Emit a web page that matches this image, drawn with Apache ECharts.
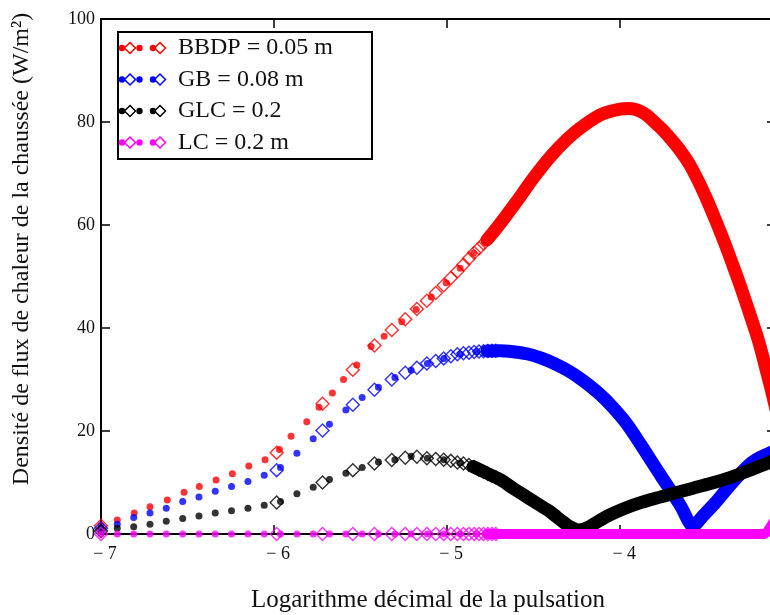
<!DOCTYPE html>
<html>
<head>
<meta charset="utf-8">
<script src="https://cdn.jsdelivr.net/npm/echarts@6/dist/echarts.min.js"></script>
<style>
html,body{margin:0;padding:0;overflow:hidden;background:#fff;}
#c{width:800px;height:615px;}
</style>
</head>
<body>
<div id="c"></div>
<script>
// ---- data ----
const xTicks = [-7, -6, -5, -4];
const yTicks = [0, 20, 40, 60, 80, 100];

const seriesNames = ['BBDP = 0.05 m', 'GB = 0.08 m', 'GLC = 0.2', 'LC = 0.2 m'];

// dot traces
const redDotX = [-7.000, -6.906, -6.808, -6.717, -6.617, -6.520, -6.432, -6.335, -6.241, -6.146, -6.052, -5.969, -5.902, -5.811, -5.740, -5.663, -5.599, -5.522, -5.439, -5.364, -5.262, -5.179, -5.092, -5.006, -4.925, -4.848, -4.770, -4.675];
const redDotY = [1.6, 2.7, 4.1, 5.3, 6.6, 8.1, 9.2, 10.5, 11.7, 13.2, 14.4, 16.4, 19.0, 21.8, 24.6, 27.4, 30.0, 32.8, 36.4, 38.4, 41.2, 43.6, 46.0, 48.8, 51.6, 54.5, 57.1, 61.0];

const dotX = [-7.000, -6.906, -6.811, -6.717, -6.623, -6.528, -6.434, -6.340, -6.246, -6.151, -6.057, -5.963, -5.868, -5.774, -5.680, -5.585, -5.491, -5.397, -5.302, -5.208, -5.114, -5.019, -4.925, -4.830, -4.736, -4.642];
const blueDotY = [1.1, 1.9, 3.2, 4.1, 5.0, 6.3, 7.2, 8.3, 9.2, 10.2, 11.4, 12.9, 15.7, 18.5, 21.3, 24.1, 26.5, 28.5, 30.4, 31.8, 33.1, 34.1, 34.9, 35.4, 35.6, 35.5];
const blackDotY = [0.6, 1.1, 1.4, 1.9, 2.5, 3.0, 3.5, 4.1, 4.5, 5.0, 5.6, 6.3, 7.8, 9.1, 10.6, 11.8, 12.9, 14.0, 14.4, 15.1, 14.7, 14.4, 13.8, 12.8, 11.3, 9.7];
const magentaDotY = [0, 0, 0, 0, 0, 0, 0, 0, 0, 0, 0, 0, 0, 0, 0, 0, 0, 0, 0, 0, 0, 0, 0, 0, 0, 0];

// diamond traces (sparse part)
const diamX = [-7.000, -5.985, -5.720, -5.545, -5.420, -5.320, -5.242, -5.175, -5.117, -5.066, -5.020, -4.979, -4.941, -4.906, -4.874, -4.844, -4.816, -4.790, -4.765, -4.741, -4.719];
const redDiamY = [1.6, 15.8, 25.3, 31.9, 36.6, 39.6, 41.7, 43.7, 45.3, 46.8, 48.3, 49.7, 51.0, 52.3, 53.5, 54.6, 55.5, 56.4, 57.3, 58.2, 59.1];
const blueDiamY = [1.1, 12.4, 20.1, 25.1, 28.0, 30.0, 31.3, 32.3, 33.1, 33.6, 34.1, 34.5, 34.9, 35.1, 35.2, 35.35, 35.45, 35.5, 35.55, 35.6, 35.6];
const blackDiamY = [0.6, 6.1, 10.0, 12.4, 13.7, 14.35, 14.8, 15.0, 14.7, 14.55, 14.4, 14.2, 13.9, 13.7, 13.4, 13.0, 12.5, 12.1, 11.7, 11.3, 11.0];
const magentaDiamY = [0, 0, 0, 0, 0, 0, 0, 0, 0, 0, 0, 0, 0, 0, 0, 0, 0, 0, 0, 0, 0];

// dense part, where the markers merge into a solid band
const redBand = [[-4.77,57.1],[-4.70,60.0],[-4.60,64.5],[-4.50,69.2],[-4.40,73.4],[-4.30,76.9],[-4.20,79.6],[-4.10,81.6],[-4.00,82.5],[-3.95,82.6],[-3.90,82.3],[-3.85,81.4],[-3.80,79.9],[-3.75,78.3],[-3.70,76.4],[-3.65,74.3],[-3.60,71.8],[-3.55,68.6],[-3.50,65.0],[-3.45,61.0],[-3.40,56.8],[-3.35,52.3],[-3.30,47.6],[-3.25,42.6],[-3.20,37.4],[-3.15,31.0],[-3.13,28.4],[-3.10,24.2]];
const blueBand = [[-4.77,35.55],[-4.70,35.6],[-4.62,35.4],[-4.54,35.0],[-4.46,34.2],[-4.38,33.1],[-4.30,31.7],[-4.22,29.9],[-4.12,27.2],[-4.04,24.5],[-3.96,21.3],[-3.88,17.3],[-3.80,13.1],[-3.72,9.0],[-3.65,5.4],[-3.58,1.5],[-3.52,3.6],[-3.45,6.1],[-3.39,8.5],[-3.32,11.2],[-3.25,13.6],[-3.19,14.9],[-3.13,15.8],[-3.10,16.3]];
const blackBand = [[-4.85,13.1],[-4.77,11.8],[-4.69,10.5],[-4.62,8.9],[-4.54,7.2],[-4.47,5.7],[-4.40,4.2],[-4.34,2.6],[-4.29,1.4],[-4.24,0.8],[-4.19,1.2],[-4.13,2.4],[-4.06,3.7],[-3.98,4.9],[-3.90,5.9],[-3.80,6.9],[-3.70,7.8],[-3.58,8.9],[-3.48,9.8],[-3.38,10.8],[-3.29,11.9],[-3.19,13.2],[-3.13,14.0],[-3.10,14.4]];
const magentaBand = [[-4.77,0],[-3.17,0],[-3.15,0.4],[-3.13,1.5],[-3.10,3.0]];

// ---- styling ----
const colors = ['#ff0000', '#0000ff', '#000000', '#ff00ff'];
const SERIF = '"Liberation Serif", "Times New Roman", serif';
const DIAMOND = 'path://M0,-10L10,0L0,10L-10,0Z M0,-7.3L-7.3,0L0,7.3L7.3,0Z';

function zip(xs, ys) { return xs.map((x, i) => [x, ys[i]]); }

const groups = [
  {dots: zip(redDotX, redDotY), diams: zip(diamX, redDiamY), band: redBand, smooth: 0.3, bw: 13},
  {dots: zip(dotX, blueDotY), diams: zip(diamX, blueDiamY), band: blueBand, smooth: 0.25, bw: 13},
  {dots: zip(dotX, blackDotY), diams: zip(diamX, blackDiamY), band: blackBand, smooth: 0.25, bw: 13},
  {dots: zip(dotX, magentaDotY), diams: zip(diamX, magentaDiamY), band: magentaBand, smooth: false, bw: 10}
];

const series = [];
groups.forEach((g, i) => {
  series.push({
    name: seriesNames[i], type: 'scatter', data: g.diams,
    symbol: DIAMOND, symbolSize: 15, itemStyle: {color: colors[i]}, z: 2 + i
  });
  series.push({
    name: seriesNames[i], type: 'scatter', data: g.dots,
    symbol: 'circle', symbolSize: 7, itemStyle: {color: colors[i]}, z: 2 + i
  });
  series.push({
    name: seriesNames[i], type: 'line', data: g.band, showSymbol: false, smooth: g.smooth,
    lineStyle: {color: colors[i], width: g.bw, cap: 'round', join: 'round'}, z: 2 + i
  });
});

const axisCommon = {
  axisLine: {show: true, onZero: false, lineStyle: {color: '#000', width: 2}},
  axisTick: {show: true, inside: true, length: 9, lineStyle: {color: '#000', width: 1.5}},
  splitLine: {show: false}
};

const xBase = Object.assign({type: 'value', min: -7, max: -3.1, interval: 1}, axisCommon);
const yBase = Object.assign({type: 'value', min: 0, max: 100, interval: 20}, axisCommon);

const option = {
  animation: false,
  backgroundColor: '#fff',
  grid: {left: 101, top: 19, right: 24, bottom: 81, containLabel: false},
  xAxis: [
    Object.assign({}, xBase, {
      position: 'bottom',
      axisLabel: {
        show: true, margin: 11, color: '#111', fontFamily: SERIF, fontSize: 18,
        padding: [0, 0, 0, 8], showMaxLabel: false,
        formatter: v => (xTicks.indexOf(v) >= 0 ? '\u2212 ' + Math.abs(v) : '')
      }
    }),
    Object.assign({}, xBase, {position: 'top', axisLabel: {show: false}})
  ],
  yAxis: [
    Object.assign({}, yBase, {
      position: 'left',
      axisLabel: {
        show: true, margin: 6, color: '#111', fontFamily: SERIF, fontSize: 18,
        formatter: v => (yTicks.indexOf(v) >= 0 ? String(v) : '')
      }
    }),
    Object.assign({}, yBase, {position: 'right', axisLabel: {show: false}})
  ],
  series: series,
  graphic: []
};

// axis titles
option.graphic.push({
  type: 'text', x: 428, y: 600, z: 100,
  style: {text: 'Logarithme décimal de la pulsation', font: '25px ' + SERIF, fill: '#111', align: 'center', verticalAlign: 'middle'}
});
option.graphic.push({
  type: 'text', x: 22, y: 249, rotation: Math.PI / 2, z: 100,
  style: {text: 'Densité de flux de chaleur de la chaussée (W/m²)', font: '24px ' + SERIF, fill: '#111', align: 'center', verticalAlign: 'middle'}
});

// legend box
option.graphic.push({
  type: 'rect', z: 100,
  shape: {x: 118, y: 32, width: 254, height: 127},
  style: {fill: '#fff', stroke: '#000', lineWidth: 2}
});
const rowY = [48, 79.5, 111, 142.5];
function diamondPts(cx, cy, r) { return [[cx, cy - r], [cx + r, cy], [cx, cy + r], [cx - r, cy]]; }
seriesNames.forEach((name, i) => {
  const y = rowY[i], c = colors[i];
  option.graphic.push({type: 'circle', z: 101, shape: {cx: 122, cy: y, r: 3.2}, style: {fill: c}});
  option.graphic.push({type: 'polygon', z: 101, shape: {points: diamondPts(130, y, 5.5)}, style: {fill: 'none', stroke: c, lineWidth: 1.5}});
  option.graphic.push({type: 'circle', z: 101, shape: {cx: 139.5, cy: y, r: 3.2}, style: {fill: c}});
  option.graphic.push({type: 'circle', z: 101, shape: {cx: 153, cy: y, r: 3.2}, style: {fill: c}});
  option.graphic.push({type: 'polygon', z: 101, shape: {points: diamondPts(160, y, 5.5)}, style: {fill: 'none', stroke: c, lineWidth: 1.5}});
  option.graphic.push({
    type: 'text', z: 101, x: 178, y: y,
    style: {text: name, font: '24px ' + SERIF, fill: '#111', align: 'left', verticalAlign: 'middle'}
  });
});

const chart = echarts.init(document.getElementById('c'), null, {renderer: 'canvas'});
chart.setOption(option);
</script>
</body>
</html>
